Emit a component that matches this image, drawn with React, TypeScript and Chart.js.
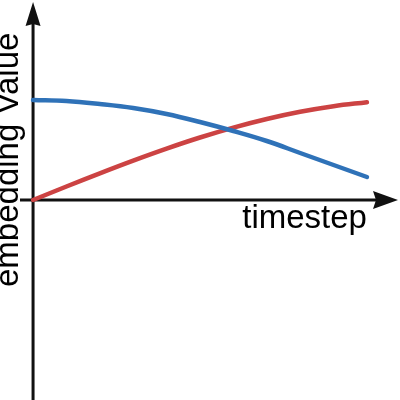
import React, { useEffect, useRef } from "react";
import { Chart, registerables } from "chart.js";

Chart.register(...registerables);

const timesteps = [0, 1, 2, 3, 4, 5, 6, 7, 8, 9, 10];
const blueValues = [1.0, 0.99, 0.96, 0.92, 0.86, 0.78, 0.69, 0.59, 0.47, 0.35, 0.23];
const redValues = [0.0, 0.135, 0.267, 0.394, 0.514, 0.625, 0.724, 0.81, 0.882, 0.938, 0.978];
const xLabel = "timestep";
const yLabel = "embedding Value";

const axesPlugin = {
  id: "arrowAxes",
  beforeDatasetsDraw(chart: any) {
    const ctx = chart.ctx;
    const xs = chart.scales.x;
    const ys = chart.scales.y;
    const x0 = xs.getPixelForValue(0);
    const y0 = ys.getPixelForValue(0);
    ctx.save();
    ctx.strokeStyle = "#111";
    ctx.fillStyle = "#111";
    ctx.lineWidth = 3;
    // vertical axis
    ctx.beginPath();
    ctx.moveTo(x0, 400);
    ctx.lineTo(x0, 20);
    ctx.stroke();
    ctx.beginPath();
    ctx.moveTo(x0, 2);
    ctx.lineTo(x0 - 7.5, 26);
    ctx.lineTo(x0, 24);
    ctx.lineTo(x0 + 7.5, 26);
    ctx.closePath();
    ctx.fill();
    // horizontal axis
    ctx.beginPath();
    ctx.moveTo(20, y0);
    ctx.lineTo(380, y0);
    ctx.stroke();
    ctx.beginPath();
    ctx.moveTo(398, y0);
    ctx.lineTo(373, y0 - 9);
    ctx.lineTo(376, y0);
    ctx.lineTo(373, y0 + 9);
    ctx.closePath();
    ctx.fill();
    ctx.restore();
  },
  afterDraw(chart: any) {
    const ctx = chart.ctx;
    const xs = chart.scales.x;
    ctx.save();
    ctx.fillStyle = "#000";
    ctx.font = '33px "Liberation Sans", Arial, sans-serif';
    ctx.textAlign = "right";
    ctx.textBaseline = "alphabetic";
    ctx.fillText(xLabel, xs.getPixelForValue(10), 228);
    ctx.translate(18, 287);
    ctx.rotate(-Math.PI / 2);
    ctx.textAlign = "left";
    ctx.fillText(yLabel, 0, 0);
    ctx.restore();
  },
};

export default function App() {
  const ref = useRef<HTMLCanvasElement>(null);
  useEffect(() => {
    document.body.style.margin = "0";
    const chart = new Chart(ref.current!, {
      type: "line",
      data: {
        datasets: [
          {
            data: timesteps.map((t, i) => ({ x: t, y: blueValues[i] })),
            borderColor: "#2f72b8",
            borderWidth: 4.5,
            pointRadius: 0,
            tension: 0.4,
            borderCapStyle: "round",
          },
          {
            data: timesteps.map((t, i) => ({ x: t, y: redValues[i] })),
            borderColor: "#cc4343",
            borderWidth: 4.5,
            pointRadius: 0,
            tension: 0.4,
            borderCapStyle: "round",
          },
        ],
      },
      options: {
        animation: false,
        responsive: false,
        layout: { padding: 0 },
        scales: {
          x: { type: "linear", min: -0.99, max: 10.99, display: false },
          y: { min: -2, max: 2, display: false },
        },
        plugins: { legend: { display: false }, tooltip: { enabled: false } },
      },
      plugins: [axesPlugin],
    } as any);
    return () => chart.destroy();
  }, []);
  return (
    <div style={{ position: "absolute", left: 0, top: 0, width: 400, height: 400, background: "#fff" }}>
      <canvas ref={ref} width={400} height={400} style={{ display: "block" }} />
    </div>
  );
}
